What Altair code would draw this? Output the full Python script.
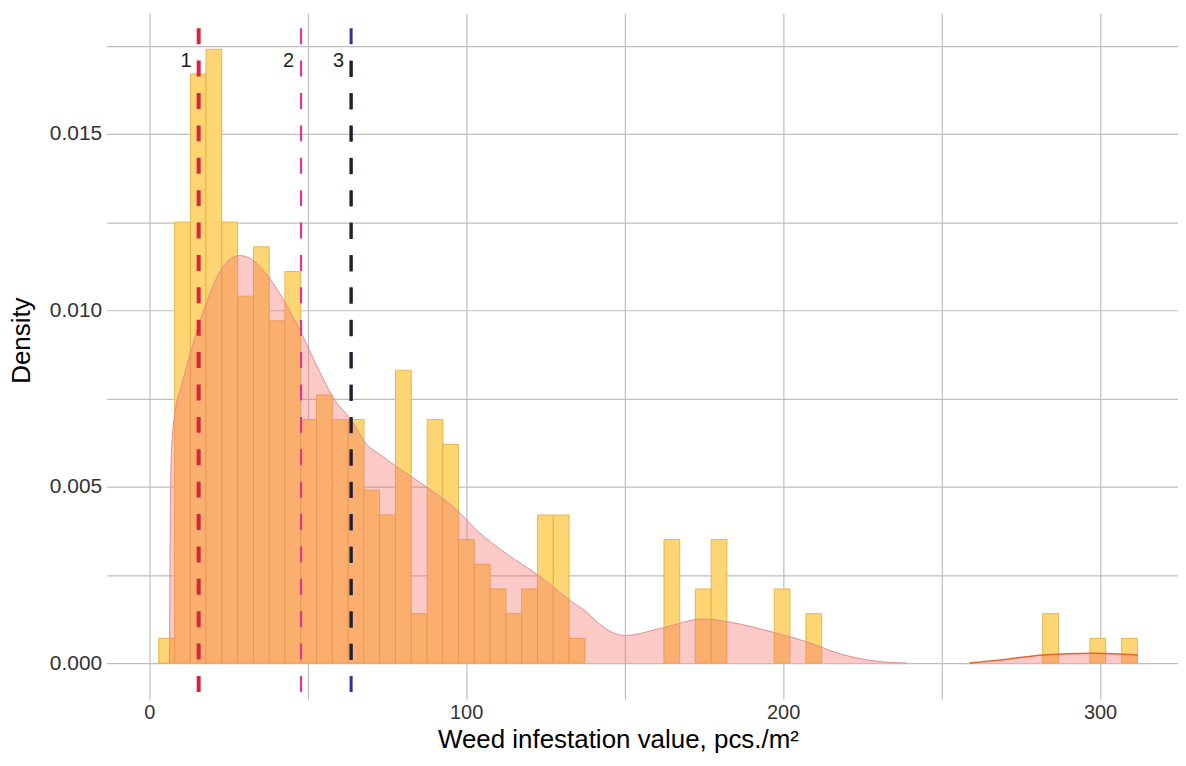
import altair as alt
import pandas as pd

# ---- data ----
bin_start = [3.0, 8.0, 13.0, 17.9, 22.9, 27.9, 32.9, 37.9, 42.8, 47.8,
             52.8, 57.8, 62.8, 67.7, 72.7, 77.7, 82.7, 87.7, 92.6, 97.6,
             102.6, 107.6, 112.6, 117.5, 122.5, 127.5, 132.5,
             162.4, 172.3, 177.3, 197.2, 207.2,
             281.9, 296.8, 306.8]
bin_density = [0.0007, 0.0125, 0.0167, 0.0174, 0.0125, 0.0104, 0.0118, 0.0097, 0.0111, 0.0069,
               0.0076, 0.0069, 0.0069, 0.0049, 0.0042, 0.0083, 0.0014, 0.0069, 0.0062, 0.0035,
               0.0028, 0.0021, 0.0014, 0.0021, 0.0042, 0.0042, 0.0007,
               0.0035, 0.0021, 0.0035, 0.0021, 0.0014,
               0.0014, 0.0007, 0.0007]
bin_width = 4.98

dens_x = [6.4, 6.6, 7.0, 8.3, 10, 13, 18, 23, 28.5, 33, 38, 43, 48, 53, 58.5, 63.7,
          68.2, 73, 78, 88, 98, 103, 113, 123, 133, 138, 142, 150, 162.5, 174.7, 183,
          197, 207.8, 218, 229.7, 239, 258.8, 270, 282, 297.5, 312]
dens_y = [0.0, 0.0035, 0.0060, 0.0072, 0.0078, 0.0088, 0.0102, 0.0112, 0.01155, 0.0114,
          0.0109, 0.0102, 0.00935, 0.0084, 0.00746, 0.0069, 0.00624, 0.0059, 0.00557,
          0.00496, 0.00426, 0.00379, 0.00308, 0.00247, 0.00176, 0.00144, 0.00111, 0.00078,
          0.00101, 0.00125, 0.00116, 0.00087, 0.00059, 0.00026, 0.00005, 0.0, 0.0,
          0.0001, 0.00023, 0.00028, 0.00023]

line_values = [15.6, 47.9, 63.7]
line_labels = ["1", "2", "3"]

x_ticks = [0, 50, 100, 150, 200, 250, 300]
y_ticks = [0.0, 0.0025, 0.005, 0.0075, 0.01, 0.0125, 0.015, 0.0175]

# ---- tables ----
bars = pd.DataFrame({"start": bin_start, "density": bin_density})
dens = pd.DataFrame({"x": dens_x, "y": dens_y})
lines = pd.DataFrame({"x": line_values, "label": line_labels})

W, H = 1075, 688
FONT = "Liberation Sans"

xs = alt.Scale(domain=[-13.43, 324.6], nice=False, zero=False)
ys = alt.Scale(domain=[-0.001017, 0.01842], nice=False, zero=False)

x_axis = alt.Axis(values=x_ticks, labelExpr="datum.value % 100 == 0 ? datum.label : ''",
                  title="Weed infestation value, pcs./m²", titleX=513, titleY=49,
                  titleAlign="center", titleBaseline="alphabetic", titleFontSize=26,
                  titleFontWeight="normal", titleColor="#000000",
                  labelPadding=4, labelFontSize=20)
y_axis = alt.Axis(values=y_ticks,
                  labelExpr="(round(datum.value*10000) % 50 == 0) ? format(datum.value, '.3f') : ''",
                  title="Density", titleX=-85, titleY=328, titleAngle=270,
                  titleAlign="center", titleBaseline="middle", titleFontSize=26,
                  titleFontWeight="normal", titleColor="#000000",
                  labelPadding=5, labelFontSize=21)

bar_layer = alt.Chart(bars).transform_calculate(
    end=f"datum.start + {bin_width}"
).mark_rect(fill="#fdd673", stroke="#e2aa3c", strokeWidth=0.8).encode(
    x=alt.X("start:Q", scale=xs, axis=x_axis),
    x2="end:Q",
    y=alt.Y("density:Q", scale=ys, axis=y_axis),
    y2=alt.datum(0),
)

area_layer = alt.Chart(dens).mark_area(
    fill="#f4716a", opacity=0.38, interpolate="monotone"
).encode(x=alt.X("x:Q", scale=xs), y=alt.Y("y:Q", scale=ys), y2=alt.datum(0))

line_main = alt.Chart(dens).transform_filter("datum.x <= 240").mark_line(
    color="#e58c8c", strokeWidth=1, interpolate="monotone"
).encode(x=alt.X("x:Q", scale=xs), y=alt.Y("y:Q", scale=ys))

line_right = alt.Chart(dens).transform_filter("datum.x >= 255").mark_line(
    color="#e8622c", strokeWidth=1.5, interpolate="monotone"
).encode(x=alt.X("x:Q", scale=xs), y=alt.Y("y:Q", scale=ys))

dash = [16, 16.5]

def vrule(label, color, width, y0, y1, offset):
    return alt.Chart(lines).transform_filter(f"datum.label == '{label}'").mark_rule(
        color=color, strokeWidth=width, strokeDash=dash, strokeDashOffset=offset
    ).encode(x=alt.X("x:Q", scale=xs), y=alt.value(y0), y2=alt.value(y1))

r1 = vrule("1", "#d8253c", 4, 0, H, 17.5)
r2 = vrule("2", "#e0368c", 2.2, 0, H, 17.5)
r3b = vrule("3", "#2f2fa0", 3, 0, H, 17.5)
r3k = vrule("3", "#222226", 3, 38, 658, 22.5)

labels = alt.Chart(lines).mark_text(
    align="right", baseline="middle", dx=-7, fontSize=20, font=FONT, color="#222222"
).encode(x=alt.X("x:Q", scale=xs), y=alt.value(48), text="label:N")

chart = alt.layer(
    bar_layer, area_layer, line_main, line_right, r1, r2, r3b, r3k, labels
).properties(
    width=W, height=H,
    autosize=alt.AutoSizeParams(type="none"),
    padding={"left": 99, "top": 4, "right": 0, "bottom": 55},
    background="#ffffff",
).configure_view(stroke=None).configure_axis(
    domain=False, ticks=False, gridColor="#bebebe", gridWidth=1.2,
    labelFont=FONT, titleFont=FONT, labelColor="#333333",
).configure_text(font=FONT)

chart.save("out.html", embed_options={"renderer": "svg", "actions": False})
